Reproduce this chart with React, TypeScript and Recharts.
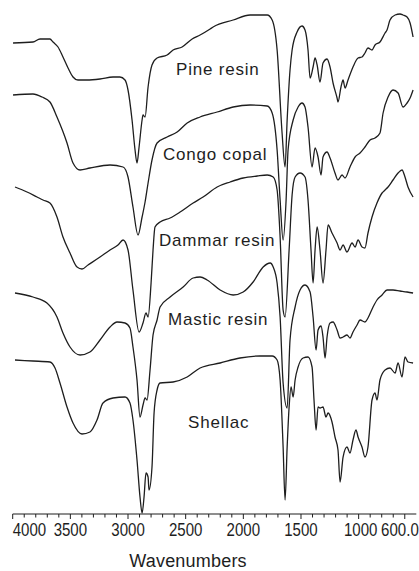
import React from "react";
import { LineChart, Line, XAxis, YAxis } from "recharts";

// Wavenumber (cm-1) and relative transmittance (offset, arbitrary units)
const pineWavenumbers = [3997, 3824, 3763, 3677, 3650, 3607, 3564, 3520, 3477, 3434, 3356, 3243, 3130, 3070, 3026, 3000, 2965, 2939, 2922, 2904, 2878, 2870, 2852, 2826, 2792, 2748, 2661, 2609, 2531, 2444, 2375, 2288, 2262, 2088, 1941, 1793, 1750, 1707, 1664, 1638, 1620, 1595, 1577, 1534, 1491, 1465, 1439, 1421, 1395, 1378, 1360, 1335, 1309, 1274, 1248, 1222, 1187, 1179, 1153, 1135, 1118, 1092, 1049, 1005, 971, 945, 919, 884, 858, 815, 771, 754, 728, 684, 641, 615, 580, 554, 528];
const pineValues = [94.2, 94.4, 95.0, 95.0, 94.4, 93.4, 91.4, 89.2, 87.4, 86.8, 86.8, 87.0, 87.4, 87.4, 86.8, 84.8, 78.8, 72.8, 70.2, 73.4, 78.8, 79.8, 79.4, 85.4, 89.8, 91.2, 91.8, 92.8, 93.4, 95.0, 95.8, 97.0, 97.4, 98.8, 99.8, 99.8, 98.8, 92.8, 76.2, 69.4, 78.8, 88.8, 92.8, 96.4, 97.6, 96.8, 92.8, 87.2, 89.4, 91.2, 89.8, 86.4, 90.2, 91.0, 89.4, 86.2, 83.2, 82.4, 85.4, 86.8, 85.2, 86.8, 89.4, 91.2, 91.4, 92.2, 93.2, 92.8, 93.8, 94.4, 96.2, 96.8, 98.8, 99.8, 100.0, 99.8, 99.4, 98.2, 95.4];

const congoWavenumbers = [3997, 3824, 3746, 3677, 3616, 3529, 3477, 3416, 3330, 3156, 3043, 3000, 2957, 2913, 2878, 2852, 2826, 2792, 2748, 2661, 2574, 2487, 2375, 2227, 2088, 1941, 1793, 1750, 1707, 1681, 1655, 1629, 1612, 1568, 1525, 1491, 1465, 1439, 1404, 1378, 1352, 1326, 1309, 1274, 1248, 1205, 1179, 1144, 1118, 1075, 1031, 988, 945, 901, 858, 815, 788, 745, 702, 658, 615, 580, 554, 528];
const congoValues = [83.8, 84.0, 83.4, 82.4, 79.4, 74.2, 70.2, 68.8, 69.2, 69.8, 69.4, 67.4, 61.4, 55.8, 59.4, 62.4, 66.2, 70.8, 74.2, 75.4, 76.4, 78.2, 79.4, 80.4, 81.4, 81.8, 81.6, 80.2, 72.8, 62.8, 54.8, 62.8, 72.8, 78.8, 81.4, 82.2, 81.4, 77.4, 69.4, 73.2, 71.4, 67.8, 71.4, 72.4, 71.2, 68.2, 66.8, 67.8, 67.2, 69.4, 71.4, 72.2, 73.4, 74.8, 75.2, 76.2, 80.2, 83.4, 84.8, 84.2, 81.4, 82.2, 83.2, 84.8];

const dammarWavenumbers = [3980, 3876, 3789, 3737, 3677, 3616, 3564, 3503, 3442, 3399, 3347, 3243, 3156, 3087, 3043, 3000, 2957, 2904, 2870, 2844, 2826, 2800, 2783, 2766, 2722, 2635, 2548, 2435, 2349, 2227, 2114, 2001, 1880, 1793, 1741, 1707, 1681, 1655, 1638, 1603, 1577, 1551, 1508, 1465, 1439, 1413, 1395, 1378, 1360, 1335, 1309, 1283, 1265, 1231, 1187, 1161, 1135, 1101, 1057, 1031, 1005, 971, 945, 919, 884, 841, 797, 771, 745, 702, 658, 624, 598, 572, 528];
const dammarValues = [65.4, 64.4, 63.4, 62.8, 62.2, 59.4, 55.4, 52.2, 49.4, 49.0, 49.8, 51.4, 52.8, 53.8, 54.8, 52.8, 44.8, 36.4, 38.2, 40.2, 39.4, 46.2, 52.8, 57.4, 58.4, 59.2, 60.4, 62.2, 63.4, 65.4, 66.4, 67.2, 67.6, 67.8, 67.4, 64.8, 55.4, 40.8, 39.4, 52.8, 63.8, 67.4, 68.2, 67.4, 62.8, 52.8, 46.2, 52.8, 57.4, 52.8, 46.2, 52.8, 57.8, 56.2, 54.2, 52.8, 53.8, 52.4, 54.2, 53.4, 54.8, 53.4, 53.2, 56.2, 59.4, 62.2, 64.2, 64.8, 65.4, 66.8, 68.2, 68.8, 67.4, 65.4, 63.4];

const masticWavenumbers = [3980, 3824, 3703, 3616, 3564, 3503, 3416, 3330, 3243, 3156, 3095, 3026, 2983, 2957, 2922, 2896, 2870, 2852, 2835, 2809, 2783, 2748, 2722, 2635, 2522, 2435, 2375, 2314, 2201, 2088, 2001, 1915, 1828, 1767, 1741, 1707, 1681, 1655, 1620, 1595, 1551, 1508, 1465, 1421, 1395, 1369, 1352, 1326, 1309, 1291, 1274, 1248, 1222, 1187, 1161, 1135, 1101, 1075, 1049, 1014, 988, 945, 919, 875, 841, 797, 754, 702, 641, 580, 528];
const masticValues = [44.2, 43.4, 42.2, 39.4, 36.2, 33.4, 31.8, 32.4, 34.8, 37.4, 38.4, 38.2, 37.2, 33.4, 26.8, 19.4, 21.8, 23.2, 22.8, 28.8, 35.8, 38.8, 41.4, 43.4, 45.4, 47.2, 47.4, 46.8, 44.8, 43.8, 44.4, 46.4, 49.4, 50.2, 49.4, 46.2, 39.4, 26.2, 21.2, 34.8, 41.4, 44.8, 45.8, 44.4, 39.4, 32.8, 36.8, 37.6, 35.4, 31.2, 35.4, 38.2, 38.4, 36.8, 35.2, 35.4, 35.8, 35.2, 36.4, 37.8, 38.8, 38.4, 39.2, 41.4, 42.8, 43.8, 44.8, 44.8, 44.6, 44.4, 44.2];

const shellacWavenumbers = [3980, 3824, 3677, 3633, 3590, 3529, 3477, 3399, 3330, 3269, 3217, 3130, 3026, 2983, 2957, 2922, 2896, 2878, 2861, 2844, 2826, 2818, 2792, 2774, 2748, 2722, 2609, 2487, 2375, 2201, 2029, 1854, 1750, 1707, 1681, 1655, 1638, 1620, 1603, 1586, 1568, 1551, 1525, 1482, 1439, 1404, 1387, 1369, 1352, 1335, 1309, 1283, 1265, 1231, 1205, 1179, 1161, 1135, 1101, 1075, 1049, 1023, 1005, 971, 945, 919, 884, 858, 841, 815, 771, 728, 684, 658, 624, 598, 572, 528];
const shellacValues = [30.8, 30.6, 30.4, 29.2, 26.2, 21.4, 18.2, 16.0, 16.4, 18.8, 22.2, 23.2, 23.4, 22.2, 18.8, 10.8, 3.4, 0.2, 3.4, 8.2, 7.4, 4.8, 9.4, 20.2, 24.8, 26.2, 26.4, 27.4, 29.2, 30.2, 31.2, 31.6, 31.6, 30.8, 26.8, 13.4, 2.8, 13.4, 21.4, 25.4, 23.4, 26.8, 29.4, 31.2, 31.4, 29.4, 22.8, 16.8, 21.4, 21.2, 21.4, 19.4, 20.2, 18.4, 15.4, 12.8, 6.4, 11.4, 13.4, 12.2, 14.8, 16.8, 15.4, 13.4, 11.4, 13.4, 22.8, 24.2, 22.8, 26.8, 28.8, 29.2, 28.2, 30.2, 27.4, 31.4, 30.4, 30.2];

const tickValues = [4000, 3900, 3800, 3700, 3600, 3500, 3400, 3300, 3200, 3100, 3000, 2900, 2800, 2700, 2600, 2500, 2400, 2300, 2200, 2100, 2000, 1900, 1800, 1700, 1600, 1500, 1400, 1300, 1200, 1100, 1000, 900, 800, 700, 600];
const majorTickLabels: Record<number, string> = {
  4000: "4000",
  3500: "3500",
  3000: "3000",
  2500: "2500",
  2000: "2000",
  1500: "1500",
  1000: "1000",
  600: "600.0",
};

const seriesNames = ["Pine resin", "Congo copal", "Dammar resin", "Mastic resin", "Shellac"];

const build = (ws: number[], vs: number[]) => ws.map((w, i) => ({ w, v: vs[i] }));

const series = [
  build(pineWavenumbers, pineValues),
  build(congoWavenumbers, congoValues),
  build(dammarWavenumbers, dammarValues),
  build(masticWavenumbers, masticValues),
  build(shellacWavenumbers, shellacValues),
];

const INK = "#1e1e1e";
const FONT = "'Liberation Sans', Arial, Helvetica, sans-serif";

const WaveTick = (props: any) => {
  const { x, y, payload } = props;
  const val = payload.value as number;
  const label = majorTickLabels[val];
  const major = label !== undefined;
  let anchor: "start" | "middle" | "end" = "middle";
  let dx = 0;
  if (val === 4000) {
    anchor = "start";
    dx = 0;
  } else if (val === 600) {
    anchor = "end";
    dx = 14;
  } else if (val === 1000) {
    dx = 2;
  }
  return (
    <g>
      <line x1={x} x2={x} y1={y} y2={y + (major ? 5 : 3.5)} stroke={INK} strokeWidth={1} />
      {major && (
        <text
          transform={`translate(${x + dx},${y + 22}) scale(0.86,1)`}
          textAnchor={anchor}
          fontSize={17.5}
          fontFamily={FONT}
          fill={INK}
        >
          {label}
        </text>
      )}
    </g>
  );
};

const labelPos = [
  { x: 176, y: 75 },
  { x: 163, y: 160 },
  { x: 159, y: 246 },
  { x: 168, y: 325 },
  { x: 188, y: 428 },
];

export default function App() {
  return (
    <div style={{ position: "absolute", left: 0, top: 0, width: 419, height: 571, background: "#fff" }}>
      <LineChart width={419} height={571} margin={{ top: 14, right: 2.7, bottom: 0, left: 12.7 }}>
        <XAxis
          dataKey="w"
          type="number"
          domain={[500, 4000]}
          reversed
          allowDataOverflow
          ticks={tickValues}
          interval={0}
          tickSize={0}
          tickMargin={0}
          tickLine={false}
          tick={<WaveTick />}
          axisLine={{ stroke: INK, strokeWidth: 1.2 }}
          height={57}
        />
        <YAxis type="number" domain={[0, 100]} hide />
        {series.map((d, i) => (
          <Line
            key={seriesNames[i]}
            name={seriesNames[i]}
            data={d}
            dataKey="v"
            type="monotone"
            stroke={INK}
            strokeWidth={1.3}
            dot={false}
            activeDot={false}
            isAnimationActive={false}
          />
        ))}
      </LineChart>
      <svg
        width={419}
        height={571}
        style={{ position: "absolute", left: 0, top: 0, pointerEvents: "none" }}
      >
        {seriesNames.map((n, i) => (
          <text
            key={n}
            x={labelPos[i].x}
            y={labelPos[i].y}
            fontSize={17}
            letterSpacing={0.8}
            fontFamily={FONT}
            fill={INK}
          >
            {n}
          </text>
        ))}
        <text
          x={188}
          y={567}
          textAnchor="middle"
          fontSize={18}
          letterSpacing={0.2}
          fontFamily={FONT}
          fill={INK}
        >
          Wavenumbers
        </text>
      </svg>
    </div>
  );
}
